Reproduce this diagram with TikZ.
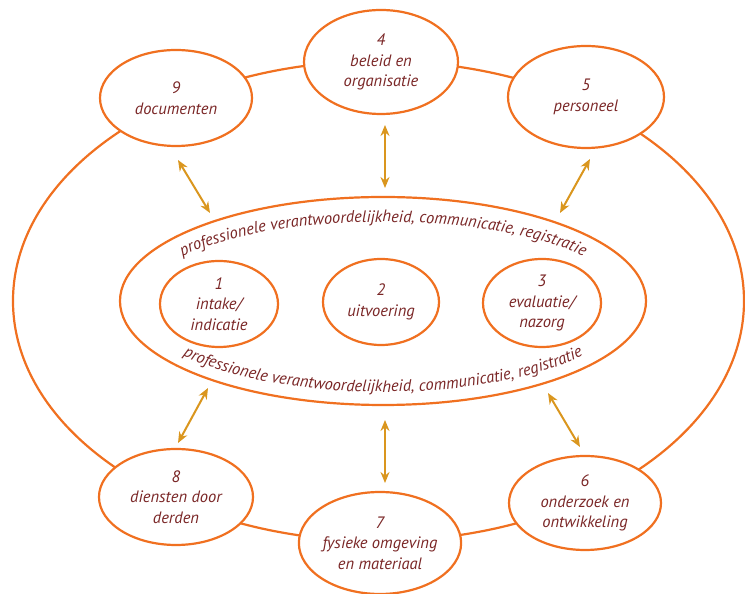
\documentclass[tikz,border=0pt]{standalone}
\usepackage{fontspec}
\setmainfont{PT Sans}
\usetikzlibrary{shapes.geometric,decorations.text,arrows.meta}
\definecolor{oranje}{RGB}{240,112,32}
\definecolor{goud}{RGB}{218,150,30}
\definecolor{bruin}{RGB}{122,38,38}
\newcommand{\boogfont}{\itshape\fontsize{16.5}{18}\selectfont}

\begin{document}
\begin{tikzpicture}[x=1pt, y=1pt,
    knoop/.style = {shape=ellipse, draw=oranje, line width=2.2pt, fill=white, inner sep=0pt, align=center, text=bruin, font=\itshape\fontsize{16.5}{20.5}\selectfont},
    pijl/.style = {draw=goud, line width=2pt, {Stealth[length=11pt,width=9pt]}-{Stealth[length=11pt,width=9pt]}}]
    \useasboundingbox (0,0) rectangle (745,594);
    \draw[oranje, line width=2.2pt] (378.5,293) ellipse [x radius=365.5, y radius=240];
    \node[knoop, minimum width=526, minimum height=208] (kern) at (383,293) {};
    \node[knoop, minimum width=118, minimum height=86] (intake) at (219,290) {1\\intake/\\indicatie};
    \node[knoop, minimum width=116, minimum height=86] (uitvoering) at (381,292) {2\\uitvoering};
    \node[knoop, minimum width=118, minimum height=88] (evaluatie) at (542,291) {3\\evaluatie/\\nazorg};
    \node[knoop, minimum width=154, minimum height=104] (beleid) at (381,532) {4\\beleid en\\organisatie};
    \node[knoop, minimum width=156, minimum height=102] (personeel) at (586,497) {5\\personeel};
    \node[knoop, minimum width=152, minimum height=94] (onderzoek) at (585,91) {6\\onderzoek en\\ontwikkeling};
    \node[knoop, minimum width=154, minimum height=102] (fysiek) at (380,51) {7\\fysieke omgeving\\en materiaal};
    \node[knoop, minimum width=154, minimum height=96] (diensten) at (176,97) {8\\diensten door\\derden};
    \node[knoop, minimum width=152, minimum height=96] (documenten) at (176,496) {9\\documenten};
    \path[decorate, decoration={text along path, text align=center, text color=bruin,
        text={|\boogfont|professionele verantwoordelijkheid, communicatie, registratie}}]
        (kern.center) ++(152:243 and 79) arc[start angle=152, end angle=28, x radius=243, y radius=79];
    \path[decorate, decoration={text along path, text align=center, text color=bruin,
        text={|\boogfont|professionele verantwoordelijkheid, communicatie, registratie}}]
        (kern.center) ++(208:250 and 91) arc[start angle=208, end angle=332, x radius=250, y radius=91];
    \coordinate (doc-a) at (178,434);
    \coordinate (doc-b) at (210,381);
    \coordinate (bel-a) at (385,469);
    \coordinate (bel-b) at (385,406);
    \coordinate (per-a) at (590,435);
    \coordinate (per-b) at (560,381);
    \coordinate (die-a) at (208,206);
    \coordinate (die-b) at (178,151);
    \coordinate (fys-a) at (385,174);
    \coordinate (fys-b) at (385,111);
    \coordinate (ond-a) at (548,201);
    \coordinate (ond-b) at (580,147);
    \draw[pijl] (doc-a) -- (doc-b);
    \draw[pijl] (bel-a) -- (bel-b);
    \draw[pijl] (per-a) -- (per-b);
    \draw[pijl] (die-a) -- (die-b);
    \draw[pijl] (fys-a) -- (fys-b);
    \draw[pijl] (ond-a) -- (ond-b);
\end{tikzpicture}
\end{document}
